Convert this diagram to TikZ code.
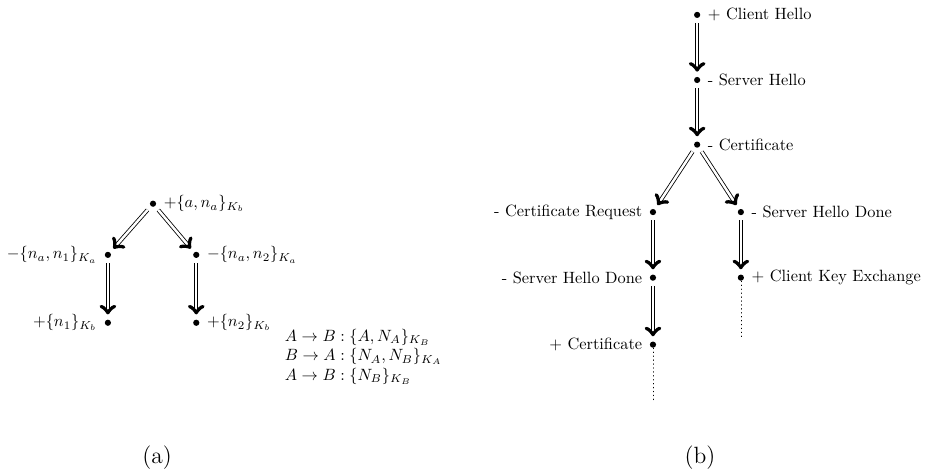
\documentclass[tikz,border=0pt]{standalone}
\usepackage{amsmath}

\begin{document}
\begin{tikzpicture}[
	dot/.style={circle,fill=black,inner sep=0pt,minimum size=3.8pt},
	msg/.style={double,line width=.5pt,double distance=1.5pt,->,shorten <=3pt,shorten >=3pt},
	cont/.style={dotted,line cap=round}]
				\useasboundingbox (0,0) rectangle (20.04,10.21);

				% (a)
				\node[dot,label={[label distance=1pt]right:{$+\{a,n_a\}_{K_b}$}}] (a0) at (3.29,5.83) {};
				\node[dot,label={[label distance=1pt]left:{$-\{n_a,n_1\}_{K_a}$}}] (a1) at (2.32,4.73) {};
				\node[dot,label={[label distance=1pt]right:{$-\{n_a,n_2\}_{K_a}$}}] (a2) at (4.22,4.73) {};
				\node[dot,label={[label distance=1pt]left:{$+\{n_1\}_{K_b}$}}] (a3) at (2.32,3.27) {};
				\node[dot,label={[label distance=1pt]right:{$+\{n_2\}_{K_b}$}}] (a4) at (4.22,3.27) {};

				\draw[msg] (a0) -- (a1);
				\draw[msg] (a0) -- (a2);
				\draw[msg] (a1) -- (a3);
				\draw[msg] (a2) -- (a4);

				\node[anchor=west,align=left] (proto) at (6.0,2.54) {$A\rightarrow B:\{A,N_A\}_{K_B}$\\$B\rightarrow A:\{N_A,N_B\}_{K_A}$\\$A\rightarrow B:\{N_B\}_{K_B}$};

				\node[font=\Large] (capa) at (3.38,0.37) {(a)};

				% (b)
				\node[dot,label={[label distance=1pt]right:{+ Client Hello}}] (b0) at (14.99,9.89) {};
				\node[dot,label={[label distance=1pt]right:{- Server Hello}}] (b1) at (14.99,8.49) {};
				\node[dot,label={[label distance=1pt]right:{- Certificate}}] (b2) at (14.99,7.10) {};
				\node[dot,label={[label distance=1pt]left:{- Certificate Request}}] (b3) at (14.04,5.65) {};
				\node[dot,label={[label distance=1pt]right:{- Server Hello Done}}] (b4) at (15.93,5.65) {};
				\node[dot,label={[label distance=1pt]left:{- Server Hello Done}}] (b5) at (14.04,4.24) {};
				\node[dot,label={[label distance=1pt]right:{+ Client Key Exchange}}] (b6) at (15.93,4.24) {};
				\node[dot,label={[label distance=1pt]left:{+ Certificate}}] (b7) at (14.04,2.80) {};
				\coordinate (e7) at (14.04,1.55);
				\coordinate (e6) at (15.93,2.97);

				\draw[msg] (b0) -- (b1);
				\draw[msg] (b1) -- (b2);
				\draw[msg] (b2) -- (b3);
				\draw[msg] (b2) -- (b4);
				\draw[msg] (b3) -- (b5);
				\draw[msg] (b5) -- (b7);
				\draw[msg] (b4) -- (b6);
				\draw[cont] (b7) -- (e7);
				\draw[cont] (b6) -- (e6);

				\node[font=\Large] (capb) at (15.05,0.37) {(b)};
			\end{tikzpicture}
\end{document}
